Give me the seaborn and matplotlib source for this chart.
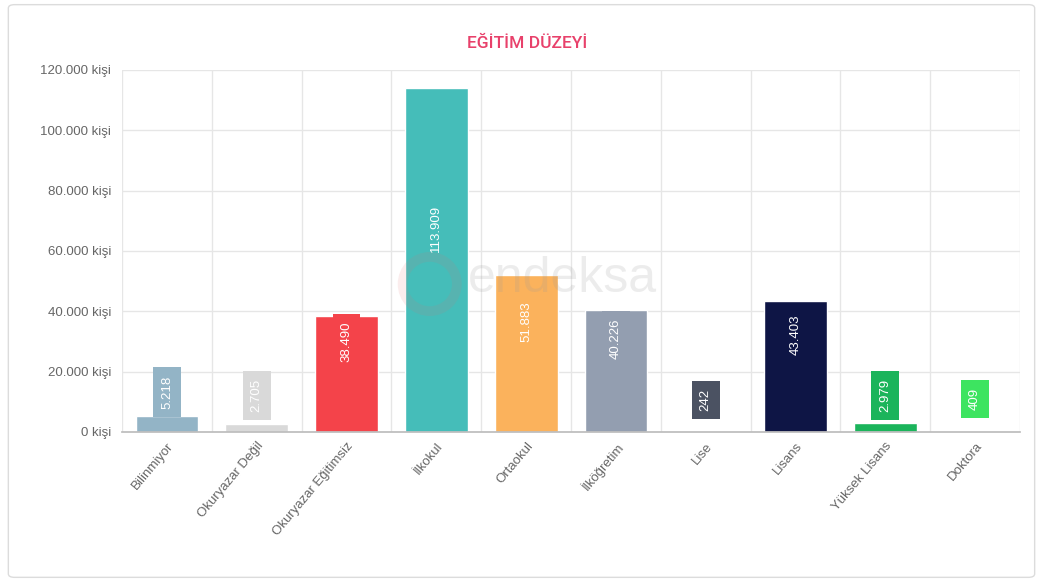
import matplotlib
matplotlib.use("Agg")
import matplotlib.pyplot as plt
import seaborn as sns
import numpy as np
from matplotlib.patches import FancyBboxPatch, Ellipse
from matplotlib.ticker import FixedLocator, FuncFormatter

categories = ["Bilinmiyor", "Okuryazar Değil", "Okuryazar Eğitimsiz", "İlkokul", "Ortaokul",
              "İlköğretim", "Lise", "Lisans", "Yüksek Lisans", "Doktora"]
values = [5218, 2705, 38490, 113909, 51883, 40226, 242, 43403, 2979, 409]
value_labels = ["5.218", "2.705", "38.490", "113.909", "51.883", "40.226", "242", "43.403", "2.979", "409"]
colors = ["#93b4c6", "#d9d9d9", "#f4434a", "#45bdb9", "#fbb25c", "#939eb0",
          "#4b5262", "#0e1545", "#1bb45b", "#3de460"]
y_ticks = [0, 20000, 40000, 60000, 80000, 100000, 120000]
title = "EĞİTİM DÜZEYİ"

sns.set_theme(style="white")
plt.rcParams["font.family"] = ["Liberation Sans", "DejaVu Sans"]

W, H = 10.43, 5.82
fig = plt.figure(figsize=(W, H), dpi=100)
fig.patch.set_facecolor("white")
border = FancyBboxPatch((0.008, 0.008), 0.984, 0.984, boxstyle="round,pad=0,rounding_size=0.006",
                        transform=fig.transFigure, fc="none", ec="#dcdcdc", lw=1.0, zorder=0)
fig.patches.append(border)

ax = fig.add_axes([0.117, 0.258, 0.861, 0.622])
ax.set_facecolor("none")

sns.barplot(x=categories, y=values, hue=categories, palette=colors, width=0.7,
            saturation=1, legend=False, ax=ax, zorder=3)

ax.set_ylim(0, 120000)
ax.set_xlim(-0.5, len(categories) - 0.5)
ax.yaxis.set_major_locator(FixedLocator(y_ticks))
ax.yaxis.set_major_formatter(FuncFormatter(lambda v, p: f"{int(v):,}".replace(",", ".") + " kişi"))
ax.xaxis.set_minor_locator(FixedLocator(np.arange(-0.5, len(categories), 1.0)))
ax.set_axisbelow(True)

ax.grid(True, axis="y", which="major", color="#e6e6e6", lw=1, zorder=0)
ax.grid(True, axis="x", which="minor", color="#e6e6e6", lw=1, zorder=0)
ax.tick_params(axis="x", which="major", length=0, pad=6, labelsize=9.5, labelcolor="#666666")
ax.tick_params(axis="x", which="minor", length=9, color="#e6e6e6", width=1)
ax.tick_params(axis="y", which="major", length=0, pad=8, labelsize=9.5, labelcolor="#666666")
for lab in ax.get_xticklabels():
    lab.set_rotation(50)
    lab.set_ha("right")
    lab.set_va("top")
    lab.set_rotation_mode("anchor")

for s in ["top", "right", "left"]:
    ax.spines[s].set_visible(False)
ax.spines["bottom"].set_color("#bdbdbd")
ax.spines["bottom"].set_zorder(4)
ax.set_xlabel("")
ax.set_ylabel("")

for i, (v, lab, c) in enumerate(zip(values, value_labels, colors)):
    ax.annotate(lab, xy=(i, v / 2), xytext=(0, 23), textcoords="offset points",
                rotation=90, ha="center", va="center", color="white", fontsize=9.5,
                bbox=dict(boxstyle="square,pad=0.6", fc=c, ec="none"), zorder=5)

# watermark (semi-transparent overlay)
fig.text(0.449, 0.521, "endeksa", fontsize=36, color="#9a9a9a", ha="left", va="center",
         alpha=0.18, zorder=5)
r = 0.026
fig.patches.append(Ellipse((0.412, 0.512), 2 * r, 2 * r * W / H, transform=fig.transFigure,
                           fc="none", ec="#e07070", lw=7, alpha=0.12, zorder=5))

fig.text(0.505, 0.925, title, fontsize=12.5, color="#e8416b", ha="center", va="center",
         family=["Roboto", "DejaVu Sans"], fontweight="medium")

fig.savefig("out.png", dpi=100)
